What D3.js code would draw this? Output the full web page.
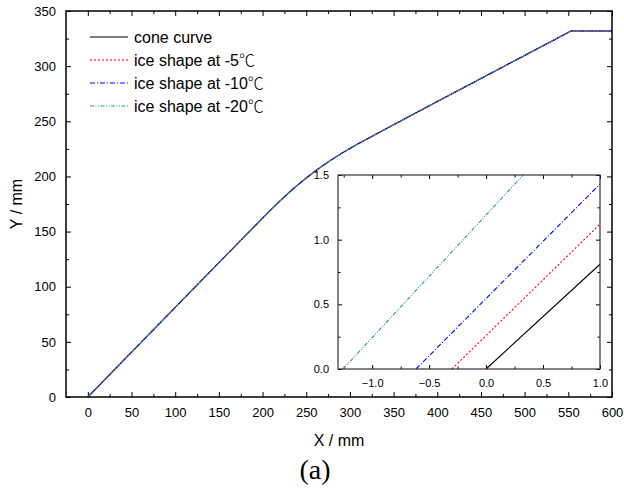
<!DOCTYPE html>
<html>
<head>
  <meta charset="utf-8">
  <style>
    body { margin: 0; background: #fff; }
    svg text { font-family: "Liberation Sans", Arial, sans-serif; fill: #000; }
    svg .tick text { font-size: 13px; }
    svg .domain { display: none; }
    svg .tick line { stroke: #000; stroke-width: 1px; }
    svg .degc { font-family: "Noto Sans CJK SC", "DejaVu Sans", sans-serif; font-weight: 300; }
  </style>
</head>
<body>
<script src="https://d3js.org/d3.v7.min.js"></script>
<script>
  // main chart: cone curve (ice shapes overlap it at this scale)
  var coneX = [0, 50, 100, 150, 200, 210, 220, 230, 240, 250, 260, 270, 280, 290, 300, 310, 320, 335, 350, 400, 450, 500, 553, 600];
  var coneY = [0, 40.6, 81.2, 121.8, 162.2, 170.2, 177.9, 185.2, 192.1, 198.6, 204.7, 210.4, 215.7, 220.7, 225.4, 229.8, 234.1, 240.5, 246.9, 267.9, 288.8, 309.7, 331.8, 331.8];

  // inset: close-up of the start of each curve
  var insetConeX = [0, 1.0],     insetConeY = [0, 0.81];
  var insetIce5X = [-0.30, 1.0], insetIce5Y = [0, 1.12];
  var insetIce10X = [-0.615, 1.0], insetIce10Y = [0, 1.43];
  var insetIce20X = [-1.256, 0.326], insetIce20Y = [0, 1.5];

  var seriesNames = ["cone curve", "ice shape at -5", "ice shape at -10", "ice shape at -20"];
  var seriesUnit = ["", "\u2103", "\u2103", "\u2103"];
  var seriesColors = ["#000000", "#ff0000", "#0000ff", "#229c9c"];
  var seriesDash = [null, "2,2", "5,2,1,2", "4,1.5,1,1.5,1,1.5"];

  var xTicks = d3.range(0, 601, 50);
  var yTicks = d3.range(0, 351, 50);
  var insetXTicks = [-1.0, -0.5, 0.0, 0.5, 1.0];
  var insetYTicks = [0.0, 0.5, 1.0, 1.5];

  var W = 624, H = 493;
  var svg = d3.select("body").append("svg")
      .attr("width", W)
      .attr("height", H);

  var box = { left: 66, right: 612, top: 11, bottom: 397 };

  var x = d3.scaleLinear().domain([-25, 600]).range([box.left, box.right]);
  var y = d3.scaleLinear().domain([0, 350]).range([box.bottom, box.top]);

  // minor ticks first (short), then major ticks with labels
  function addAxes(g, xs, ys, b, xMaj, xMin, yMaj, yMin, fmt, lenMaj, lenMin) {
    g.append("g").attr("transform", "translate(0," + b.bottom + ")")
      .call(d3.axisBottom(xs).tickValues(xMin).tickSize(-lenMin).tickFormat(""));
    g.append("g").attr("transform", "translate(0," + b.bottom + ")")
      .call(d3.axisBottom(xs).tickValues(xMaj).tickSize(-lenMaj).tickPadding(lenMaj + 6).tickFormat(fmt));
    g.append("g").attr("transform", "translate(0," + b.top + ")")
      .call(d3.axisTop(xs).tickValues(xMin).tickSize(-lenMin).tickFormat(""));
    g.append("g").attr("transform", "translate(0," + b.top + ")")
      .call(d3.axisTop(xs).tickValues(xMaj).tickSize(-lenMaj).tickFormat(""));
    g.append("g").attr("transform", "translate(" + b.left + ",0)")
      .call(d3.axisLeft(ys).tickValues(yMin).tickSize(-lenMin).tickFormat(""));
    g.append("g").attr("transform", "translate(" + b.left + ",0)")
      .call(d3.axisLeft(ys).tickValues(yMaj).tickSize(-lenMaj).tickPadding(lenMaj + 5).tickFormat(fmt));
    g.append("g").attr("transform", "translate(" + b.right + ",0)")
      .call(d3.axisRight(ys).tickValues(yMin).tickSize(-lenMin).tickFormat(""));
    g.append("g").attr("transform", "translate(" + b.right + ",0)")
      .call(d3.axisRight(ys).tickValues(yMaj).tickSize(-lenMaj).tickFormat(""));
  }

  var mainG = svg.append("g");
  addAxes(mainG, x, y, box, xTicks, d3.range(25, 600, 50), yTicks, d3.range(25, 350, 50),
          d3.format("d"), 5, 3);

  var line = d3.line()
    .x(function (d) { return x(d[0]); })
    .y(function (d) { return y(d[1]); });
  var conePts = d3.zip(coneX, coneY);
  seriesNames.forEach(function (n, i) {
    mainG.append("path")
      .attr("d", line(conePts))
      .attr("fill", "none")
      .attr("stroke", seriesColors[i])
      .attr("stroke-width", 1.1)
      .attr("stroke-linejoin", "round")
      .attr("stroke-dasharray", seriesDash[i]);
  });

  mainG.append("rect")
    .attr("x", box.left).attr("y", box.top)
    .attr("width", box.right - box.left).attr("height", box.bottom - box.top)
    .attr("fill", "none").attr("stroke", "#000").attr("stroke-width", 1.5);

  // legend
  var legend = svg.append("g").attr("transform", "translate(90,37)");
  seriesNames.forEach(function (n, i) {
    var row = legend.append("g").attr("transform", "translate(0," + (i * 23) + ")");
    row.append("line")
      .attr("x1", 0).attr("x2", 38).attr("y1", 0).attr("y2", 0)
      .attr("stroke", seriesColors[i])
      .attr("stroke-width", 1.1)
      .attr("stroke-dasharray", seriesDash[i]);
    var t = row.append("text")
      .attr("x", 44).attr("dy", "0.35em")
      .style("font-size", "16px")
      .text(n);
    if (seriesUnit[i]) {
      t.append("tspan").attr("class", "degc").text(seriesUnit[i]);
    }
  });

  // axis titles
  svg.append("text")
    .attr("x", (box.left + box.right) / 2).attr("y", 446)
    .attr("text-anchor", "middle")
    .style("font-size", "16px")
    .text("X / mm");
  svg.append("text")
    .attr("transform", "translate(22," + ((box.top + box.bottom) / 2) + ") rotate(-90)")
    .attr("text-anchor", "middle")
    .style("font-size", "16px")
    .text("Y / mm");
  svg.append("text")
    .attr("x", 315).attr("y", 479)
    .attr("text-anchor", "middle")
    .style("font-family", "'Liberation Serif', 'Times New Roman', serif")
    .style("font-size", "28px")
    .text("(a)");

  // inset
  var ibox = { left: 338, right: 600, top: 175, bottom: 369 };
  var ix = d3.scaleLinear().domain([-1.3, 1.0]).range([ibox.left, ibox.right]);
  var iy = d3.scaleLinear().domain([0, 1.5]).range([ibox.bottom, ibox.top]);

  var insetG = svg.append("g");
  insetG.append("rect")
    .attr("x", ibox.left).attr("y", ibox.top)
    .attr("width", ibox.right - ibox.left).attr("height", ibox.bottom - ibox.top)
    .attr("fill", "#fff");
  addAxes(insetG, ix, iy, ibox, insetXTicks, [-1.25, -0.75, -0.25, 0.25, 0.75],
          insetYTicks, [0.25, 0.75, 1.25], d3.format(".1f"), 4, 2.5);
  insetG.selectAll(".tick text").style("font-size", "11px");

  var iline = d3.line().x(function (d) { return ix(d[0]); }).y(function (d) { return iy(d[1]); });
  var insetSets = [
    d3.zip(insetConeX, insetConeY),
    d3.zip(insetIce5X, insetIce5Y),
    d3.zip(insetIce10X, insetIce10Y),
    d3.zip(insetIce20X, insetIce20Y)
  ];
  insetSets.forEach(function (pts, i) {
    insetG.append("path")
      .attr("d", iline(pts))
      .attr("fill", "none")
      .attr("stroke", seriesColors[i])
      .attr("stroke-width", 1.1)
      .attr("stroke-dasharray", seriesDash[i]);
  });
  insetG.append("rect")
    .attr("x", ibox.left).attr("y", ibox.top)
    .attr("width", ibox.right - ibox.left).attr("height", ibox.bottom - ibox.top)
    .attr("fill", "none").attr("stroke", "#333").attr("stroke-width", 1.2);
</script>
</body>
</html>
